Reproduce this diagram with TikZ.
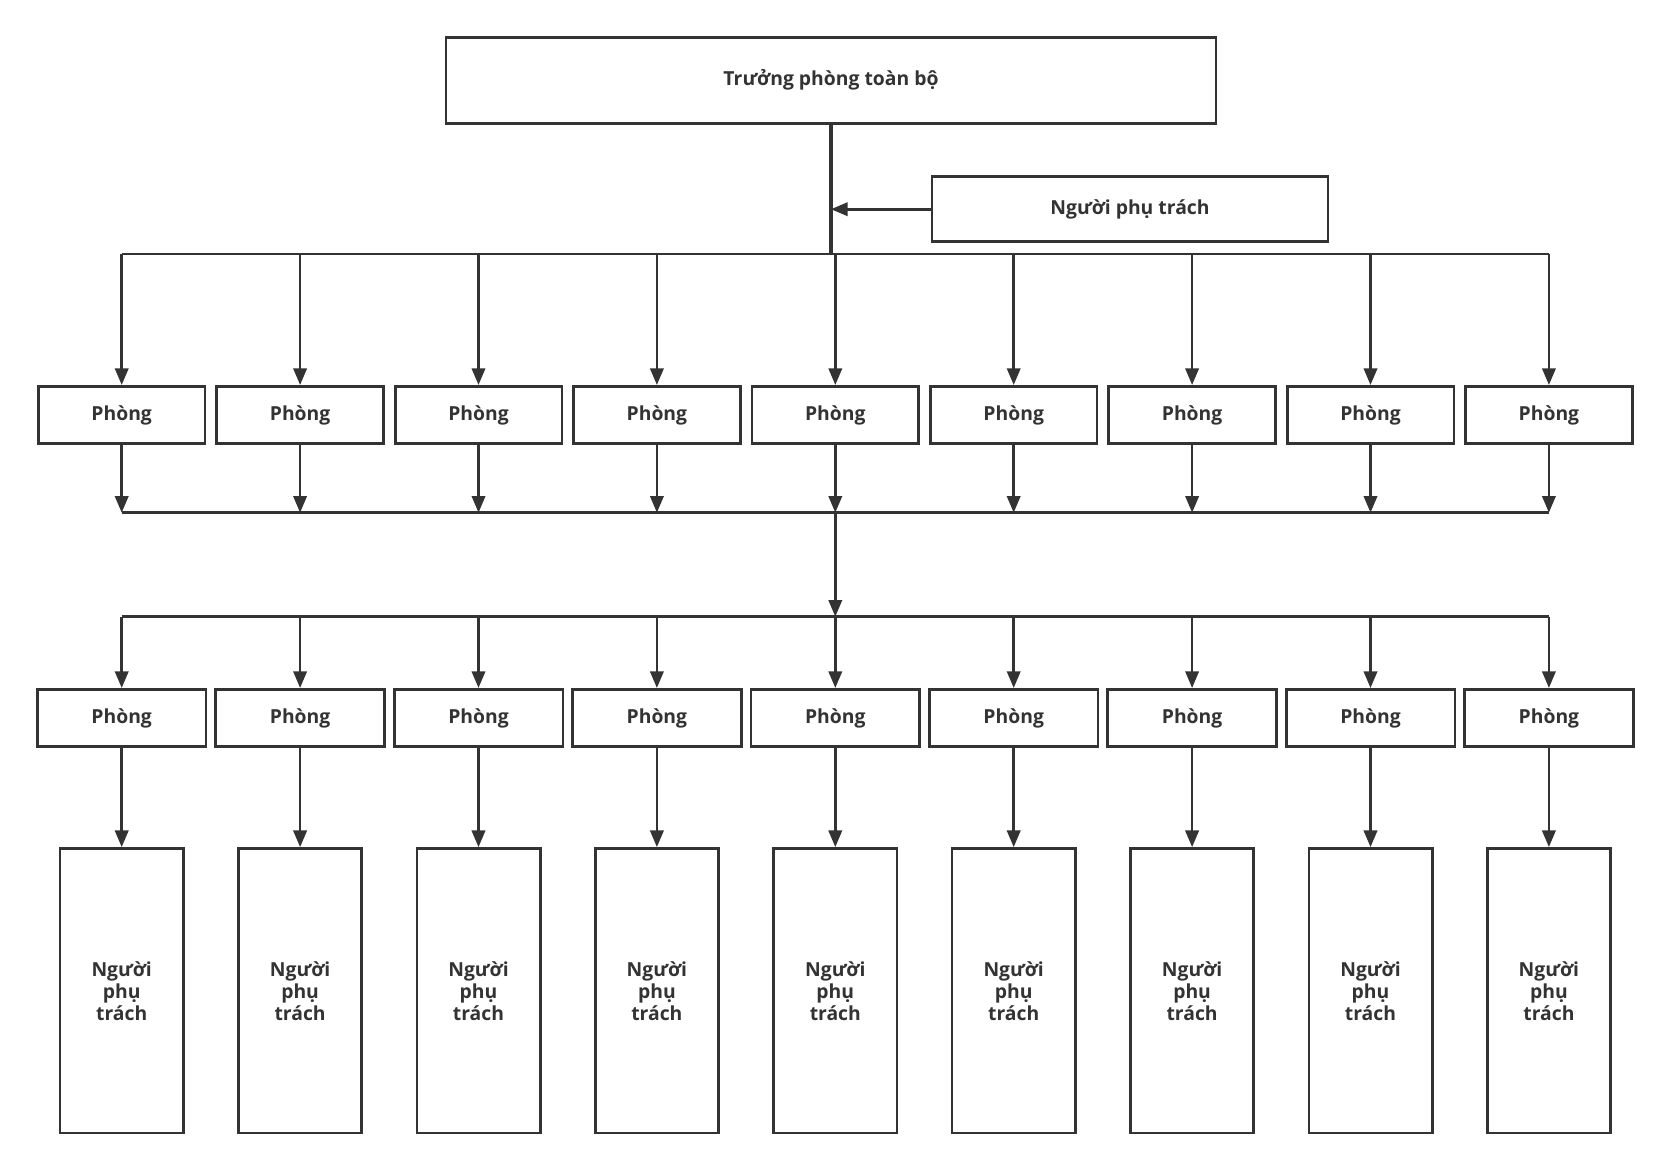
\documentclass[tikz,border=0pt]{standalone}
\usepackage{fontspec}
\setmainfont{Open Sans}
\usetikzlibrary{arrows.meta,positioning}
\definecolor{lineclr}{HTML}{333333}

\begin{document}
\begin{tikzpicture}[x=0.75pt, y=-0.75pt, line width=2pt, lineclr,
  every node/.style={font=\bfseries\fontsize{14.5}{16.5}\selectfont, text=lineclr, align=center},
  box/.style={draw=lineclr, line width=2pt, fill=white, inner sep=0pt},
  phongbox/.style={box, minimum width=125pt, minimum height=43pt},
  nguoibox/.style={box, minimum width=92.5pt, minimum height=213.5pt},
  arr/.style={-{Triangle[length=12.5pt, width=10pt]}}]
\useasboundingbox (0,0) rectangle (1671,1170);

\node[box, minimum width=577.5pt, minimum height=64.5pt] (top) at (831,80.3) {Trưởng phòng toàn bộ};
\node[box, minimum width=297pt, minimum height=48.75pt] (sub) at (1130,209.2) {Người phụ trách};
\coordinate (trunk) at (831,254);
\draw[line width=2.4pt] (top.south) -- (trunk);
\draw[arr] (sub.west) -- (sub.west -| top.south);

\foreach \i in {1,...,9}{
  \pgfmathsetmacro{\cx}{121.7+178.4*(\i-1)}
  \coordinate (busA\i) at (\cx,254);
  \coordinate (busB\i) at (\cx,512.7);
  \coordinate (busC\i) at (\cx,616.7);
  \node[phongbox] (p\i) at (\cx,415) {Phòng};
  \node[phongbox, minimum width=126.5pt] (q\i) at (\cx,718) {Phòng};
  \node[nguoibox] (r\i) at (\cx,990.8) {Người\\phụ\\trách};
  \draw[arr] (busA\i) -- (p\i.north);
  \draw[arr] (p\i.south) -- (busB\i);
  \draw[arr] (busC\i) -- (q\i.north);
  \draw[arr] (q\i.south) -- (r\i.north);
}
\draw (busA1) -- (busA9);
\draw (busB1) -- (busB9);
\draw (busC1) -- (busC9);
\draw[arr] (busB5) -- (busC5);
\end{tikzpicture}
\end{document}
